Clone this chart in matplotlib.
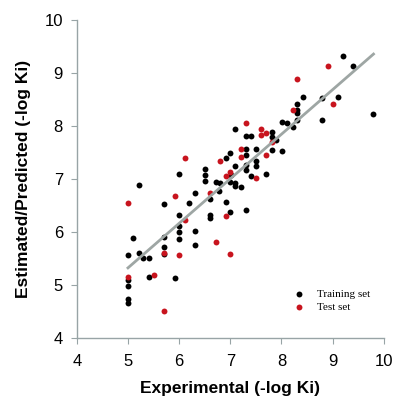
import matplotlib.pyplot as plt
import numpy as np

# training set points (experimental, predicted)
train_x = [9.20, 9.40, 9.80, 8.42, 8.30, 8.30, 8.30, 8.79, 9.11, 8.79, 8.01, 8.10, 8.30, 8.22,
           7.09, 7.30, 7.41, 7.81, 7.81, 7.90, 7.00, 6.91, 7.30, 7.50, 7.30, 7.81, 8.01, 7.09,
           7.50, 7.50, 6.51, 6.51, 6.51, 5.99, 5.21, 6.72, 6.79, 6.78, 7.00, 7.09, 7.09, 7.20,
           7.30, 7.30, 7.41, 7.70, 7.01, 6.31, 5.70, 6.19, 6.60, 6.91, 5.99, 6.60, 6.60, 7.00,
           7.30, 5.99, 5.99, 5.99, 6.31, 6.31, 5.70, 5.70, 5.70, 5.09, 5.21, 5.01, 5.30, 5.41,
           5.41, 5.91, 5.01, 5.01, 5.01, 5.01]
train_y = [9.33, 9.13, 8.23, 8.55, 8.41, 8.30, 8.25, 8.53, 8.54, 8.11, 8.07, 8.05, 8.11, 7.98,
           7.94, 7.82, 7.82, 7.88, 7.80, 7.73, 7.50, 7.39, 7.56, 7.56, 7.45, 7.54, 7.52, 7.24,
           7.34, 7.24, 7.18, 7.07, 6.97, 7.10, 6.89, 6.95, 6.92, 6.78, 6.95, 6.92, 6.87, 6.85,
           7.26, 7.17, 7.05, 7.09, 7.07, 6.74, 6.53, 6.55, 6.63, 6.56, 6.32, 6.32, 6.26, 6.38,
           6.42, 6.12, 5.99, 5.86, 6.02, 5.76, 5.90, 5.72, 5.58, 5.88, 5.61, 5.56, 5.50, 5.50,
           5.15, 5.13, 5.09, 4.98, 4.73, 4.65]

# test set points
test_x = [8.91, 8.30, 9.00, 8.22, 7.30, 7.61, 7.61, 7.70, 7.82, 7.21, 7.21, 7.70, 6.11, 6.80,
          5.01, 5.91, 6.12, 6.60, 6.91, 7.00, 7.50, 6.91, 6.72, 7.00, 5.99, 5.70, 5.50, 5.01, 5.70]
test_y = [9.13, 8.89, 8.41, 8.31, 8.05, 7.94, 7.83, 7.86, 7.69, 7.56, 7.41, 7.45, 7.39, 7.34,
          6.54, 6.68, 6.22, 6.74, 7.05, 7.14, 7.01, 6.30, 5.80, 5.58, 5.56, 5.61, 5.19, 5.15, 4.51]

# regression line ends
fit_x = [5.0, 9.8]
fit_y = [5.32, 9.36]

axis_col = '#98a4a6'
red = '#c8141e'

fig = plt.figure(figsize=(3.96, 4.04), dpi=100)
ax = fig.add_axes([0.194, 0.164, 0.775, 0.786])

ax.plot(fit_x, fit_y, color='#9ea6a4', lw=2, zorder=3)
ax.scatter(train_x, train_y, marker='o', s=18, color='black', lw=0, zorder=2, label='Training set')
ax.scatter(test_x, test_y, marker='o', s=18, color=red, lw=0, zorder=2, label='Test set')

ax.set_xlim(4, 10)
ax.set_ylim(4, 10)
ax.set_xticks(range(4, 11))
ax.set_yticks(range(4, 11))

for s in ['top', 'right']:
    ax.spines[s].set_visible(False)
for s in ['left', 'bottom']:
    ax.spines[s].set_color(axis_col)
    ax.spines[s].set_linewidth(1.0)
ax.tick_params(direction='out', length=4, color=axis_col, labelsize=12)
ax.tick_params(axis='x', pad=8)
ax.tick_params(axis='y', pad=6)
for lab in ax.get_xticklabels() + ax.get_yticklabels():
    lab.set_family('Liberation Sans')

ax.set_xlabel('Experimental (-log Ki)', fontsize=12.5, fontweight='bold',
              family='Liberation Sans', labelpad=8)
ax.set_ylabel('Estimated/Predicted (-log Ki)', fontsize=12.5, fontweight='bold',
              family='Liberation Sans', labelpad=10)

ax.legend(loc='lower right', bbox_to_anchor=(0.97, 0.068), frameon=False,
          prop={'family': 'Liberation Serif', 'size': 8}, handletextpad=0.6,
          borderaxespad=0, labelspacing=0.3, scatterpoints=1)

fig.savefig('out.png', dpi=100)
